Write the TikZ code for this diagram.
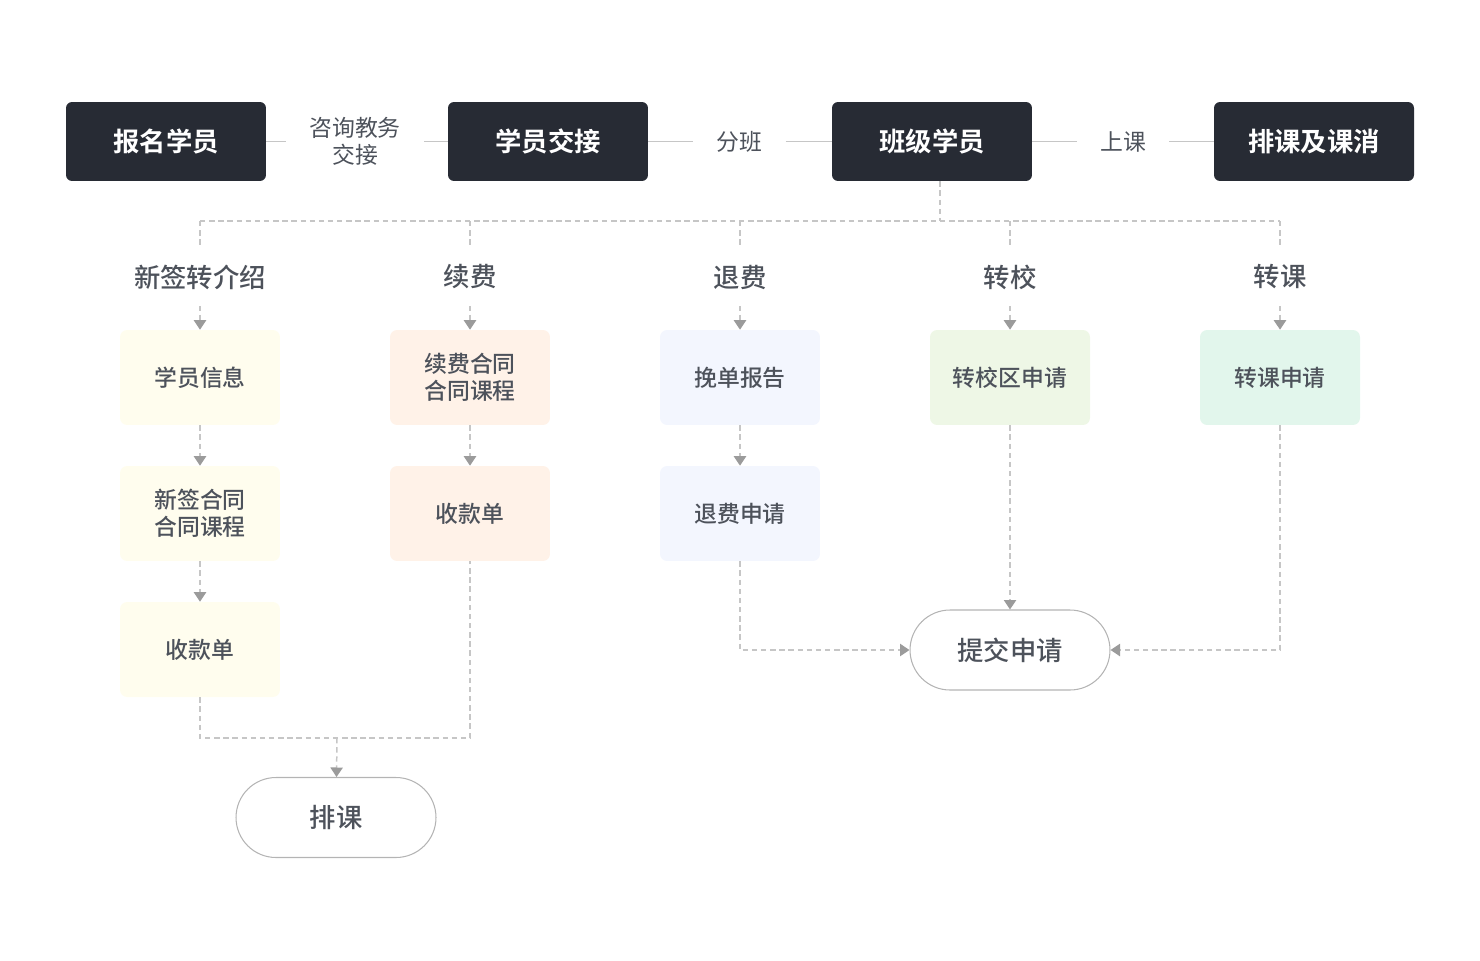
\documentclass[tikz,border=0pt]{standalone}
\usepackage{fontspec}
\setmainfont{Noto Sans CJK SC}[BoldFont={Noto Sans CJK SC Medium}]
\newfontfamily\heavyfont{Noto Sans CJK SC Bold}
\usetikzlibrary{arrows.meta}

\definecolor{boxdark}{HTML}{272B34}
\definecolor{txtgray}{HTML}{4D525B}
\definecolor{linegray}{HTML}{C6C6C6}
\definecolor{tipgray}{HTML}{9B9B9B}
\definecolor{rimgray}{HTML}{B4B4B4}
\definecolor{fillyellow}{HTML}{FFFDEE}
\definecolor{fillorange}{HTML}{FFF2E8}
\definecolor{fillblue}{HTML}{F3F6FE}
\definecolor{fillgreen}{HTML}{EEF7E6}
\definecolor{fillmint}{HTML}{E2F6EC}

\tikzset{
  topbox/.style={fill=boxdark, text=white, rounded corners=0.12cm, inner sep=0pt,
    minimum width=4cm, minimum height=1.58cm, font=\fontsize{15}{18}\selectfont\heavyfont},
  edgelbl/.style={text=txtgray, inner xsep=0.46cm, inner ysep=0pt, align=center,
    font=\fontsize{13}{15.5}\selectfont},
  branch/.style={text=txtgray, inner sep=0pt, minimum height=1.14cm,
    font=\fontsize{15}{18}\selectfont\bfseries},
  stepbox/.style={text=txtgray, rounded corners=0.14cm, inner sep=0pt, align=center,
    minimum width=3.2cm, minimum height=1.9cm, font=\fontsize{13}{15.5}\selectfont\bfseries},
  terminal/.style={draw=rimgray, line width=0.6pt, text=txtgray, rounded corners=0.8cm,
    minimum width=4cm, minimum height=1.6cm, font=\fontsize{15}{18}\selectfont\bfseries},
  solidline/.style={draw=linegray, line width=0.85pt},
  dline/.style={draw=linegray, line width=0.85pt, dash pattern=on 3.1pt off 2.1pt},
  darrow/.style={dline, -{Triangle[width=7pt,length=5.4pt,color=tipgray]}}
}

\begin{document}
\begin{tikzpicture}[x=0.02cm, y=-0.02cm]
    % Vaste afmetingen van de tekening
    \useasboundingbox (0,0) rectangle (1480,960);

    % Bovenste rij: de vier stappen
    \node[topbox] (signup)   at (166,141.5)  {报名学员};
    \node[topbox] (handover) at (548,141.5)  {学员交接};
    \node[topbox] (klass)    at (932,141.5)  {班级学员};
    \node[topbox] (sched)    at (1314,141.5) {排课及课消};

    % Labels tussen de stappen
    \node[edgelbl] (consult) at (355,141.5)  {咨询教务\\交接};
    \node[edgelbl] (divide)  at (739.5,141.5) {分班};
    \node[edgelbl] (attend)  at (1123,141.5) {上课};

    \draw[solidline] (signup) -- (consult) -- (handover);
    \draw[solidline] (handover) -- (divide) -- (klass);
    \draw[solidline] (klass) -- (attend) -- (sched);

    % Vijf takken onder de klas
    \node[branch] (newsign)  at (200,277)  {新签转介绍};
    \node[branch] (renew)    at (470,277)  {续费};
    \node[branch] (refund)   at (740,277)  {退费};
    \node[branch] (transfer) at (1010,277) {转校};
    \node[branch] (switch)   at (1280,277) {转课};

    % Verdeellijn (bus)
    \coordinate (busL) at (200,221);  % begin van de bus
    \coordinate (busR) at (1280,221); % einde van de bus
    \coordinate (busK) at (940,221);  % aftakking onder de klas
    \draw[dline] (busL) -- (busR);
    \draw[dline] (klass.south -| busK) -- (busK);
    \foreach \b in {newsign, renew, refund, transfer, switch}
        \draw[dline] (\b |- busL) -- (\b);

    % Kolom 1: nieuwe inschrijving
    \node[stepbox, fill=fillyellow] (info)        at (200,377.5) {学员信息};
    \node[stepbox, fill=fillyellow] (newcontract) at (200,513.5) {新签合同\\合同课程};
    \node[stepbox, fill=fillyellow] (receiptA)    at (200,649.5) {收款单};

    % Kolom 2: verlenging
    \node[stepbox, fill=fillorange] (renewcontract) at (470,377.5) {续费合同\\合同课程};
    \node[stepbox, fill=fillorange] (receiptB)      at (470,513.5) {收款单};

    % Kolom 3: terugbetaling
    \node[stepbox, fill=fillblue] (report)    at (740,377.5) {挽单报告};
    \node[stepbox, fill=fillblue] (refundreq) at (740,513.5) {退费申请};

    % Kolom 4 en 5: overplaatsing
    \node[stepbox, fill=fillgreen] (schoolreq) at (1010,377.5) {转校区申请};
    \node[stepbox, fill=fillmint]  (coursereq) at (1280,377.5) {转课申请};

    % Eindpunten
    \node[terminal] (arrange) at (336,817.5) {排课};
    \node[terminal] (submit)  at (1010,650)  {提交申请};

    % Pijlen binnen de kolommen
    \draw[darrow] (newsign) -- (info);
    \draw[darrow] (renew) -- (renewcontract);
    \draw[darrow] (refund) -- (report);
    \draw[darrow] (transfer) -- (schoolreq);
    \draw[darrow] (switch) -- (coursereq);
    \draw[darrow] (info) -- (newcontract);
    \draw[darrow] (newcontract) -- (receiptA);
    \draw[darrow] (renewcontract) -- (receiptB);
    \draw[darrow] (report) -- (refundreq);

    % Samenkomen naar het rooster
    \coordinate (join) at (337,738);
    \draw[dline] (receiptA.south) |- (join) -| (receiptB.south);
    \draw[darrow] (join) -- (arrange);

    % Samenkomen naar de aanvraag
    \draw[darrow] (refundreq.south) |- (submit);
    \draw[darrow] (schoolreq) -- (submit);
    \draw[darrow] (coursereq.south) |- (submit);

\end{tikzpicture}
\end{document}
